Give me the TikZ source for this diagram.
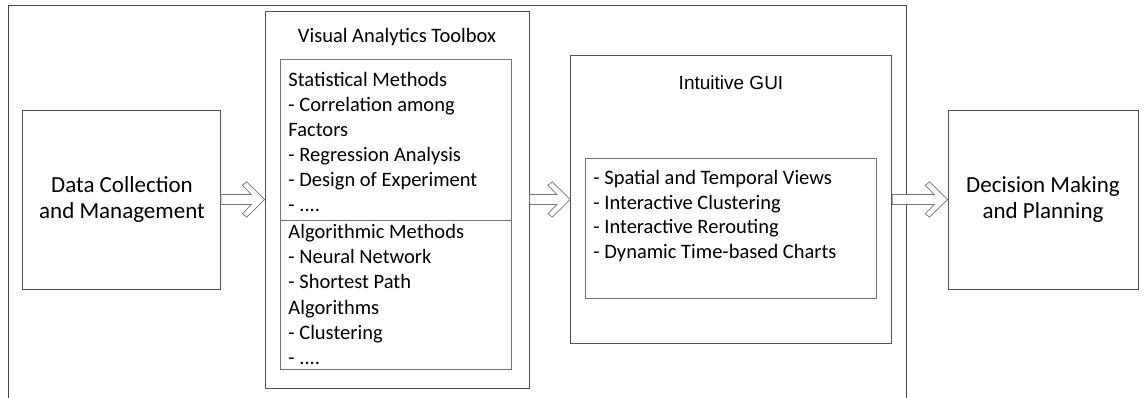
\documentclass[tikz,border=0pt]{standalone}
\usepackage{fontspec}
\setmainfont{Carlito}
\newfontfamily\arialfont{Liberation Sans}
\usetikzlibrary{calc}

\begin{document}
\begin{tikzpicture}[x=1pt, y=-1pt, line width=0.9pt,
    box/.style = {draw=black!68, inner sep=0pt},
    inbox/.style = {draw=black!55, line width=0.8pt, inner sep=0pt},
    label/.style = {font=\fontsize{23}{26}\selectfont, align=center},
    item/.style = {font=\fontsize{20.5}{25}\selectfont, inner sep=0pt, anchor=base west},
    hollow/.style = {draw=black!55, line width=0.7pt, fill=white, line join=miter}]

      \useasboundingbox (0,0) rectangle (1144,398);

      % outer frame, open at the bottom
      \draw[black!72] (8,398) -- (8,5) -- (906,5) -- (906,398);

      \node[box, minimum width=198pt, minimum height=179pt] (data) at (121.5,199.5) {};
      \node[label, anchor=base] (datatxt) at (122,219) {Data Collection\\and Management};

      \node[box, minimum width=264pt, minimum height=377pt] (toolbox) at (397.2,199.5) {};
      \node[font=\fontsize{20.5}{24}\selectfont] (tooltitle) at (397,37) {Visual Analytics Toolbox};
      \node[inbox, minimum width=231pt, minimum height=310pt] (methods) at (395.5,214) {};
      \draw[black!55, line width=0.8pt] (methods.west |- 0,220) -- (methods.east |- 0,220);

      \foreach \txt [count=\k from 0] in {Statistical Methods, - Correlation among, Factors,
          - Regression Analysis, - Design of Experiment, - ..{}..}
        \node[item] (stat\k) at (288,86.7+25*\k) {\txt};

      \foreach \txt [count=\k from 0] in {Algorithmic Methods, - Neural Network, - Shortest Path,
          Algorithms, - Clustering, - ..{}..}
        \node[item] (algo\k) at (288,239+25*\k) {\txt};

      \node[box, minimum width=321pt, minimum height=288pt] (gui) at (731.2,199.5) {};
      \node[font=\arialfont\fontsize{19}{22}\selectfont] (guititle) at (731,83) {Intuitive GUI};
      \node[inbox, minimum width=291pt, minimum height=140pt] (views) at (730.5,228) {};

      \foreach \txt [count=\k from 0] in {- Spatial and Temporal Views, - Interactive Clustering,
          - Interactive Rerouting, - Dynamic Time-based Charts}
        \node[item] (view\k) at (593,185+24.5*\k) {\txt};

      \node[box, minimum width=190pt, minimum height=179pt] (decision) at (1043,199.5) {};
      \node[label, anchor=base] (decisiontxt) at (1043,219) {Decision Making\\and Planning};

      \foreach \a/\b in {data/toolbox, toolbox/gui, gui/decision}
        \draw[hollow] let \p1 = (\a.east), \p2 = (\b.west) in
          (\x1,\y1+5pt) -- (\x2-13.4pt,\y1+5pt) -- (\x2-22.4pt,\y1+14.3pt) -- (\x2-18pt,\y1+17.6pt)
          -- (\x2,\y1) -- (\x2-18pt,\y1-17.6pt) -- (\x2-22.4pt,\y1-14.3pt) -- (\x2-13.4pt,\y1-5pt)
          -- (\x1,\y1-5pt) -- cycle;

\end{tikzpicture}
\end{document}
